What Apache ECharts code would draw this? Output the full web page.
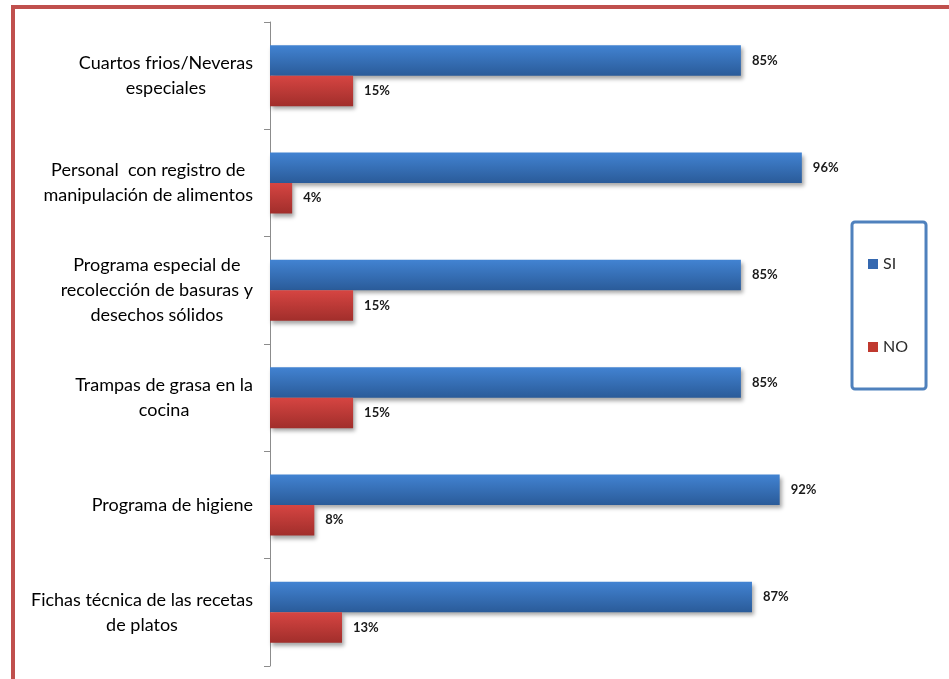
<!DOCTYPE html>
<html>
<head>
<meta charset="utf-8">
<script src="https://cdn.jsdelivr.net/npm/echarts@6/dist/echarts.min.js"></script>
<style>
  html, body { margin: 0; padding: 0; background: #ffffff; }
  #chart { width: 949px; height: 679px; }
</style>
</head>
<body>
<div id="chart"></div>
<script>
// Categories (lines of each label separated by \n)
const categories = [
  'Cuartos frios/Neveras\nespeciales',
  'Personal  con registro de\nmanipulación de alimentos',
  'Programa especial de\nrecolección de basuras y\ndesechos sólidos',
  'Trampas de grasa en la\ncocina',
  'Programa de higiene',
  'Fichas técnica de las recetas\nde platos'
];
const seriesNames = ['SI', 'NO'];
const siValues = [85, 96, 85, 85, 92, 87];
const noValues = [15, 4, 15, 15, 8, 13];

const chart = echarts.init(document.getElementById('chart'), null, { renderer: 'canvas' });

function grad(top, bottom) {
  return new echarts.graphic.LinearGradient(0, 0, 0, 1, [
    { offset: 0, color: top },
    { offset: 1, color: bottom }
  ]);
}

const valueLabel = {
  show: true,
  position: 'right',
  distance: 11,
  formatter: p => p.value + '%',
  fontFamily: 'Lato',
  fontWeight: 'bold',
  fontSize: 13,
  color: '#1a1a1a'
};

const barShadow = {
  shadowColor: 'rgba(0,0,0,0.35)',
  shadowBlur: 4,
  shadowOffsetX: 2,
  shadowOffsetY: 3
};

chart.setOption({
  animation: false,
  backgroundColor: '#ffffff',
  graphic: [{
    type: 'rect',
    shape: { x: 13, y: 7, width: 1200, height: 1200 },
    style: { fill: 'none', stroke: '#c0504d', lineWidth: 4 },
    silent: true
  }],
  legend: {
    orient: 'vertical',
    left: 852,
    top: 222,
    padding: [34, 18, 34, 16],
    itemGap: 67,
    itemWidth: 10,
    itemHeight: 10,
    icon: 'rect',
    borderColor: '#4f81bd',
    borderWidth: 3,
    borderRadius: 3,
    textStyle: { fontFamily: 'Lato', fontSize: 16, color: '#2a2a2a', lineHeight: 16 },
    data: [
      { name: 'SI', itemStyle: { color: '#3568b0' } },
      { name: 'NO', itemStyle: { color: '#c0392f' } }
    ]
  },
  grid: { left: 270, right: 125, top: 22, bottom: 13, containLabel: false },
  xAxis: {
    type: 'value',
    min: 0,
    max: 100,
    show: false
  },
  yAxis: {
    type: 'category',
    inverse: true,
    data: categories,
    axisLine: { show: true, lineStyle: { color: '#8c8c8c', width: 1 } },
    axisTick: { show: true, length: 6, lineStyle: { color: '#8c8c8c' } },
    axisLabel: {
      margin: 17,
      align: 'right',
      formatter: v => v.split('\n').map(l => '{c|' + l + '}').join('\n'),
      rich: {
        c: {
          align: 'center',
          fontFamily: 'Lato',
          fontSize: 18,
          lineHeight: 25,
          color: '#000000'
        }
      }
    },
    splitLine: { show: false }
  },
  series: [
    {
      name: seriesNames[0],
      type: 'bar',
      data: siValues,
      barWidth: 30.5,
      barGap: '0%',
      itemStyle: Object.assign({ color: grad('#4283d2', '#2a5b99') }, barShadow),
      label: valueLabel
    },
    {
      name: seriesNames[1],
      type: 'bar',
      data: noValues,
      barWidth: 30.5,
      barGap: '0%',
      itemStyle: Object.assign({ color: grad('#d64542', '#a12e2b') }, barShadow),
      label: valueLabel
    }
  ]
});
</script>
</body>
</html>
